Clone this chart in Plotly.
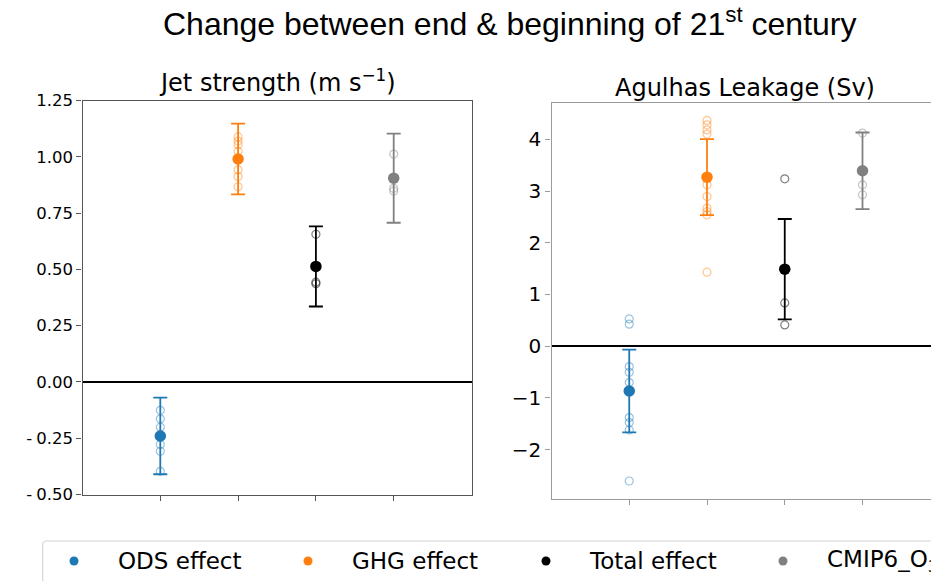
import plotly.graph_objects as go

# ---------------- data ----------------
groups = ["ODS effect", "GHG effect", "Total effect", "CMIP6_O<sub>3</sub>"]
colors = ["#1f77b4", "#ff7f0e", "#000000", "#808080"]
member_colors = ["rgba(31,119,180,0.45)", "rgba(255,127,14,0.45)",
                 "rgba(0,0,0,0.5)", "rgba(128,128,128,0.45)"]
xpos = [0, 1, 2, 3]

jet_mean = [-0.240, 0.990, 0.513, 0.905]
jet_err = [0.170, 0.157, 0.178, 0.198]
jet_members = [
    [-0.126, -0.164, -0.201, -0.245, -0.278, -0.308, -0.397],
    [1.088, 1.070, 1.054, 1.024, 0.990, 0.942, 0.912, 0.867],
    [0.656, 0.443, 0.436],
    [1.012, 0.860, 0.848],
]

al_mean = [-0.865, 3.268, 1.489, 3.391]
al_err = [0.800, 0.735, 0.970, 0.740]
al_members = [
    [0.528, 0.425, -0.394, -0.504, -0.703, -0.865, -1.380, -1.477, -1.620, -2.606],
    [4.364, 4.280, 4.180, 4.100, 3.120, 2.894, 2.670, 2.600, 2.540, 1.430],
    [3.236, 0.837, 0.412],
    [4.120, 3.120, 2.927],
]

jet_ticks = [-0.5, -0.25, 0.0, 0.25, 0.5, 0.75, 1.0, 1.25]
jet_ticktext = ["-\u20050.50", "-\u20050.25", "0.00", "0.25", "0.50", "0.75", "1.00", "1.25"]
al_ticks = [-2, -1, 0, 1, 2, 3, 4]
al_ticktext = ["\u22122", "\u22121", "0", "1", "2", "3", "4"]

title_text = "Change between end & beginning of 21<sup>st</sup> century"
jet_title = "Jet strength (m s<sup>\u22121</sup>)"
al_title = "Agulhas Leakage (Sv)"

# ---------------- figure ----------------
W, H = 931, 581
fig = go.Figure()

def add_panel(means, errs, members, xa, ya):
    for i in range(len(groups)):
        fig.add_trace(go.Scatter(
            x=[xpos[i]] * len(members[i]), y=members[i], mode="markers",
            xaxis=xa, yaxis=ya, showlegend=False, hoverinfo="y",
            marker=dict(symbol="circle-open", size=8, color=member_colors[i],
                        line=dict(width=1.2, color=member_colors[i])),
        ))
    for i in range(len(groups)):
        fig.add_trace(go.Scatter(
            x=[xpos[i]], y=[means[i]], mode="markers",
            xaxis=xa, yaxis=ya, showlegend=False, name=groups[i],
            marker=dict(symbol="circle", size=11.5, color=colors[i]),
            error_y=dict(type="data", array=[errs[i]], symmetric=True,
                         color=colors[i], thickness=1.8, width=7),
        ))

add_panel(jet_mean, jet_err, jet_members, "x", "y")
add_panel(al_mean, al_err, al_members, "x2", "y2")

def px_x(p):
    return p / W

def px_y(p):
    return 1 - p / H

# axes
lcol = "#555555"
rcol = "#9a9a9a"
fig.update_layout(
    xaxis=dict(domain=[px_x(82.5), px_x(471.5)], range=[-1, 4],
               tickvals=xpos, showticklabels=False, ticks="outside",
               ticklen=5, tickcolor=lcol, showline=True, linecolor=lcol,
               linewidth=1.3, mirror=True, showgrid=False, zeroline=False,
               anchor="y"),
    yaxis=dict(domain=[px_y(494.5), px_y(100.5)], range=[-0.5, 1.25],
               tickvals=jet_ticks, ticktext=jet_ticktext, ticks="outside",
               ticklen=5, tickcolor=lcol, showline=True, linecolor=lcol,
               linewidth=1.3, mirror=True, showgrid=False,
               zeroline=True, zerolinecolor="#000000", zerolinewidth=1.8,
               tickfont=dict(family="DejaVu Sans", size=16.5, color="#000"),
               anchor="x"),
    xaxis2=dict(domain=[px_x(551.5), 1.0], range=[-1, -1 + (931 - 551.5) / 77.75],
                tickvals=xpos, showticklabels=False, ticks="outside",
                ticklen=5, tickcolor=rcol, showline=True, linecolor=rcol,
                linewidth=1.3, mirror=True, showgrid=False, zeroline=False,
                anchor="y2"),
    yaxis2=dict(domain=[px_y(498.5), px_y(103)], range=[-2.944, 4.701],
                tickvals=al_ticks, ticktext=al_ticktext, ticks="outside",
                ticklen=5, tickcolor=rcol, showline=True, linecolor=rcol,
                linewidth=1.3, mirror=False, showgrid=False,
                zeroline=True, zerolinecolor="#000000", zerolinewidth=1.8,
                tickfont=dict(family="DejaVu Sans", size=20, color="#000"),
                anchor="x2"),
)

annotations = [
    dict(text=title_text, x=px_x(510), y=px_y(44), xref="paper", yref="paper",
         xanchor="center", yanchor="bottom", showarrow=False,
         font=dict(family="Liberation Sans", size=32, color="#000")),
    dict(text=jet_title, x=px_x(277), y=px_y(99), xref="paper", yref="paper",
         xanchor="center", yanchor="bottom", showarrow=False,
         font=dict(family="DejaVu Sans", size=24, color="#000")),
    dict(text=al_title, x=px_x(745), y=px_y(104), xref="paper", yref="paper",
         xanchor="center", yanchor="bottom", showarrow=False,
         font=dict(family="DejaVu Sans", size=24, color="#000")),
]

# manual legend (cropped at the right edge like the reference)
leg_dot_x = [74, 308, 546, 783]
leg_text_x = [116, 350, 587, 825]
leg_y = 561
shapes = []
x0, yt = px_x(42.7), px_y(541)
rx, ry = 4 / W, 4 / H
path = (f"M {x0},{-0.1} L {x0},{yt - ry} Q {x0},{yt} {x0 + rx},{yt} "
        f"L {1.1},{yt} L {1.1},{-0.1} Z")
shapes.append(dict(type="path", path=path, xref="paper", yref="paper",
                   line=dict(color="#d6d6d6", width=1.2), fillcolor="white",
                   layer="below"))
for i in range(len(groups)):
    shapes.append(dict(type="circle", xref="paper", yref="paper",
                       xsizemode="pixel", ysizemode="pixel",
                       xanchor=px_x(leg_dot_x[i]), yanchor=px_y(leg_y),
                       x0=-4.5, x1=4.5, y0=-4.5, y1=4.5,
                       fillcolor=colors[i], line=dict(width=0)))
    annotations.append(dict(text=groups[i], x=px_x(leg_text_x[i]), y=px_y(leg_y),
                            xref="paper", yref="paper", xanchor="left",
                            yanchor="middle", showarrow=False,
                            font=dict(family="DejaVu Sans", size=23, color="#000")))

fig.update_layout(
    width=W, height=H,
    margin=dict(l=0, r=0, t=0, b=0, pad=0, autoexpand=False),
    paper_bgcolor="white", plot_bgcolor="white",
    annotations=annotations, shapes=shapes, showlegend=False,
)

fig.write_html("out.html")
